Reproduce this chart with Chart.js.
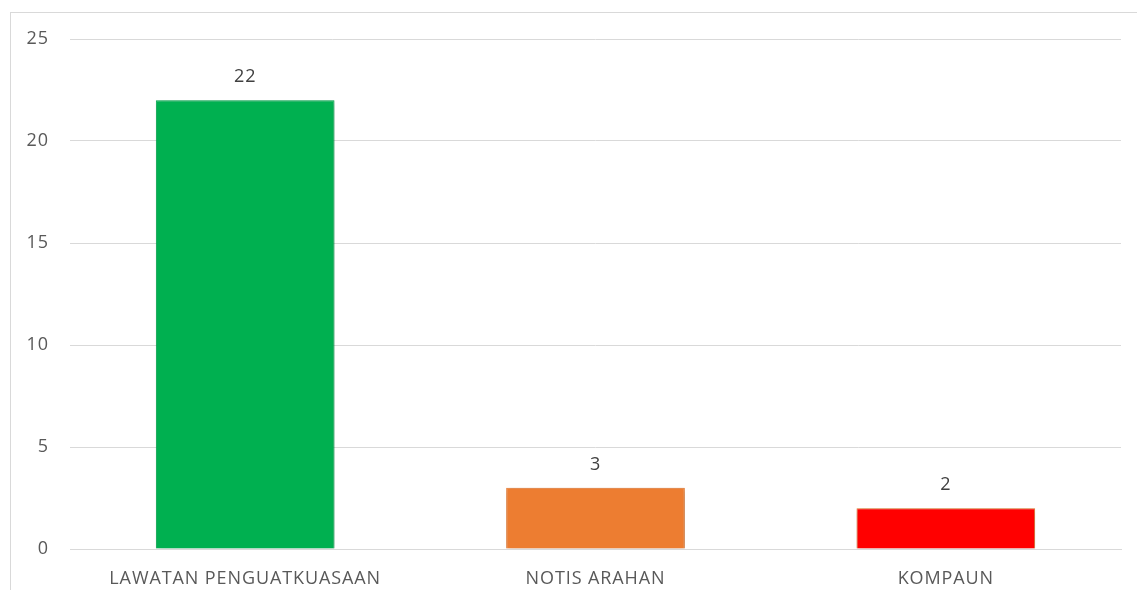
<!DOCTYPE html>
<html><head><meta charset="utf-8">
<script src="https://cdn.jsdelivr.net/npm/chart.js@4.4.1/dist/chart.umd.min.js"></script>
<style>
html,body{margin:0;padding:0;background:#fff;overflow:hidden;}
#wrap{position:absolute;left:0;top:0;width:1137px;height:590px;}
#frame{position:absolute;left:10px;top:12px;width:1140px;height:600px;border:1px solid #d9d9d9;box-sizing:border-box;}
canvas{position:absolute;left:0;top:0;}
</style></head>
<body>
<div id="wrap"><div id="frame"></div><canvas id="c" width="1137" height="590"></canvas></div>
<script>
const categories = ["LAWATAN PENGUATKUASAAN", "NOTIS ARAHAN", "KOMPAUN"];
const values = [22, 3, 2];
const barColors = ["#00B050", "#ED7D31", "#FF0000"];
const borderColors = ["#00B050", "#ED7D31", "#ED7D31"];
const yTicks = [0, 5, 10, 15, 20, 25];

const FONT = "'Open Sans', sans-serif";

const spacing = {
  id: 'spacing',
  beforeDraw(chart) { chart.ctx.letterSpacing = '0.9px'; }
};
const valueLabels = {
  id: 'valueLabels',
  afterDatasetsDraw(chart) {
    const ctx = chart.ctx;
    const meta = chart.getDatasetMeta(0);
    ctx.save();
    ctx.font = "18px " + FONT;
    ctx.fillStyle = "#404040";
    ctx.textAlign = "center";
    ctx.textBaseline = "middle";
    meta.data.forEach((bar, i) => {
      ctx.fillText(String(values[i]), bar.x, bar.y - 23);
    });
    ctx.restore();
  }
};
const shadow = {
  id: 'shadow',
  beforeDatasetDraw(chart) {
    const ctx = chart.ctx;
    ctx.save();
    ctx.shadowColor = "rgba(0,0,0,0.25)";
    ctx.shadowBlur = 6;
    ctx.shadowOffsetX = 1;
    ctx.shadowOffsetY = 1;
  },
  afterDatasetDraw(chart) { chart.ctx.restore(); }
};

new Chart(document.getElementById('c'), {
  type: 'bar',
  data: {
    labels: categories,
    datasets: [{
      data: values,
      backgroundColor: barColors,
      borderColor: borderColors,
      borderWidth: 1,
      barPercentage: 0.51,
      categoryPercentage: 1
    }]
  },
  options: {
    responsive: false,
    animation: false,
    devicePixelRatio: 1,
    layout: { padding: { left: 0, top: 39, right: 16, bottom: 0 } },
    plugins: { legend: { display: false }, tooltip: { enabled: false } },
    scales: {
      y: {
        min: 0, max: 25,
        afterFit(s) { s.width = 70; },
        afterBuildTicks(s) { s.ticks = yTicks.map(v => ({ value: v })); },
        grid: { color: "#d9d9d9", lineWidth: 1, drawTicks: false },
        border: { display: false },
        ticks: { padding: 21, color: "#595959", font: { family: FONT, size: 18 } }
      },
      x: {
        afterFit(s) { s.height = 41; },
        grid: { display: false, drawTicks: false },
        border: { display: true, color: "#d9d9d9", width: 1 },
        ticks: { padding: 19, color: "#595959", font: { family: FONT, size: 18 }, maxRotation: 0 }
      }
    }
  },
  plugins: [spacing, shadow, valueLabels]
});
</script>
</body></html>
